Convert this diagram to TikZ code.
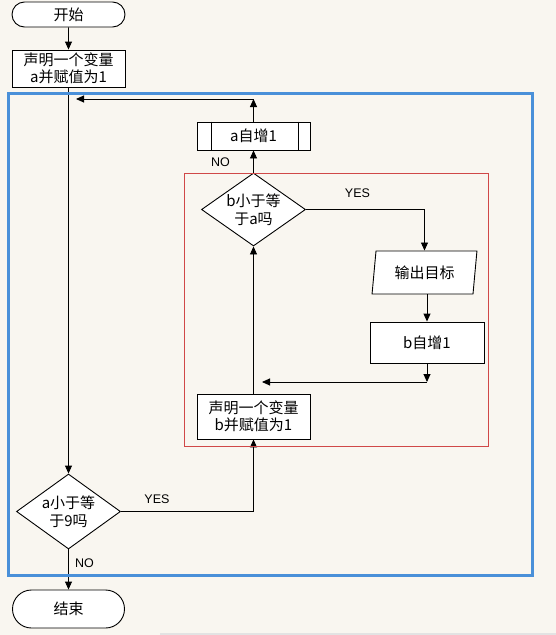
\documentclass[tikz,border=0pt]{standalone}
\usepackage{fontspec}
\setmainfont{Liberation Sans}
\newfontfamily\cjkf{Noto Sans CJK SC}
\usetikzlibrary{shapes.geometric,shapes.misc,arrows.meta}
\definecolor{bgc}{HTML}{F9F6F0}
\definecolor{framblue}{HTML}{4A90D9}
\definecolor{framred}{HTML}{D04848}
\tikzset{
  box/.style={draw, fill=white, line width=0.9pt, inner sep=0pt,
    font=\cjkf\fontsize{15}{17.5}\selectfont, align=center},
  term/.style={box, rounded rectangle},
  dia/.style={box, diamond, aspect=1.4},
  para/.style={box, trapezium, trapezium left angle=80, trapezium right angle=100, trapezium stretches=true},
  lbl/.style={font=\fontsize{12.5}{14}\selectfont, inner sep=0pt},
  arr/.style={-{Triangle[length=8pt,width=7pt]}, line width=0.9pt},
  ln/.style={line width=0.9pt}
}
\begin{document}
\begin{tikzpicture}[x=1pt,y=-1pt]
\useasboundingbox (0,0) rectangle (556,635);
\fill[bgc] (0,0) rectangle (556,635);
\fill[gray!22] (160,633) rectangle (556,635);

% nodes
\node[term, minimum width=113, minimum height=25] (start) at (68.5,14.5) {开始};
\node[box, minimum width=113, minimum height=37] (deca) at (68.5,68.5) {声明一个变量\\a并赋值为1};
\node[box, minimum width=113, minimum height=28] (inc) at (253.5,136) {a自增1};
\draw[ln] ([xshift=15pt]inc.north west) -- ([xshift=15pt]inc.south west);
\draw[ln] ([xshift=-12pt]inc.north east) -- ([xshift=-12pt]inc.south east);
\node[dia, minimum width=104, minimum height=73] (db) at (253.5,209.5) {b小于等\\于a吗};
\node[para, minimum width=105, minimum height=43] (out) at (424.5,272.5) {输出目标};
\node[box, minimum width=114, minimum height=41] (binc) at (427,342.5) {b自增1};
\node[box, minimum width=113, minimum height=45] (decb) at (253.5,416.5) {声明一个变量\\b并赋值为1};
\node[dia, minimum width=104, minimum height=75] (da) at (68.5,511.5) {a小于等\\于9吗};
\node[term, minimum width=112, minimum height=38] (stop) at (68.5,609) {结束};

% coordinates for free ends
\coordinate (c2) at (76,99);
\coordinate (c3) at (262,382);

% connectors
\draw[arr] (start) -- (deca);
\draw[arr] (deca) -- (da);
\draw[arr] (da.south) -- (stop.north);
\draw[arr] (da.east) -| (decb.south);
\draw[arr] (decb.north) -- (db.south);
\draw[arr] (db.north) -- (inc.south);
\draw[arr] (inc.north) -- (inc.north |- c2);
\draw[arr] (inc.north |- c2) -- (c2);
\draw[arr] (db.east) -| (out.north);
\draw[arr] (binc.north |- out.south) -- (binc.north);
\draw[arr] (binc.south) -- (binc.south |- c3);
\draw[arr] (binc.south |- c3) -- (c3);

% labels
\node[lbl] (yes1) at (157,499) {YES};
\node[lbl] (no1) at (84.5,563) {NO};
\node[lbl] (no2) at (220.5,162) {NO};
\node[lbl] (yes2) at (357.5,193) {YES};

% frames
\draw[framred, line width=0.8pt] (184,173) rectangle (488,446);
\draw[framblue, line width=3pt] (8.5,93.5) rectangle (532.5,575.5);
\end{tikzpicture}
\end{document}
